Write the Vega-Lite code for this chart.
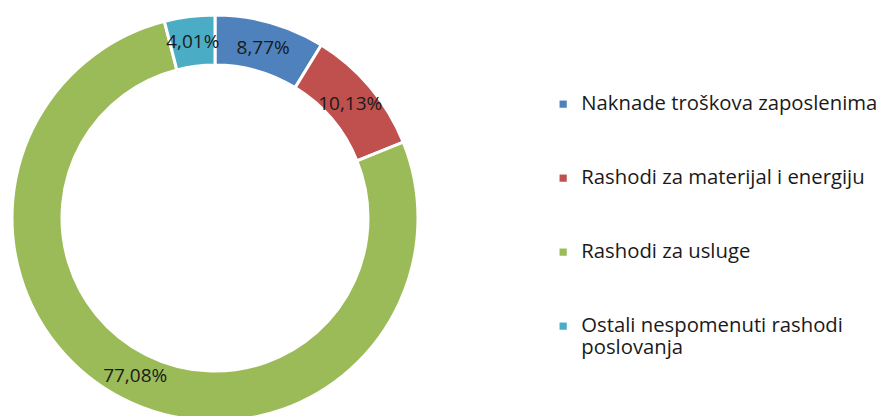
{
  "$schema": "https://vega.github.io/schema/vega-lite/v6.json",
  "width": 430,
  "height": 436,
  "padding": 0,
  "background": "white",
  "config": {"view": {"stroke": null}, "font": "Open Sans"},
  "data": {"values": [
    {"kategorija": "Naknade troškova zaposlenima", "udio": 8.77, "oznaka": "8,77%", "red": 1},
    {"kategorija": "Rashodi za materijal i energiju", "udio": 10.13, "oznaka": "10,13%", "red": 2},
    {"kategorija": "Rashodi za usluge", "udio": 77.08, "oznaka": "77,08%", "red": 3},
    {"kategorija": "Ostali nespomenuti rashodi poslovanja", "udio": 4.01, "oznaka": "4,01%", "red": 4}
  ]},
  "encoding": {
    "theta": {"field": "udio", "type": "quantitative", "stack": true},
    "order": {"field": "red", "type": "quantitative"}
  },
  "layer": [
    {
      "mark": {"type": "arc", "outerRadius": 203, "innerRadius": 153, "stroke": "white", "strokeWidth": 3},
      "encoding": {
        "color": {
          "field": "kategorija", "type": "nominal",
          "scale": {
            "domain": ["Naknade troškova zaposlenima", "Rashodi za materijal i energiju", "Rashodi za usluge", "Ostali nespomenuti rashodi poslovanja"],
            "range": ["#4F81BD", "#C0504D", "#9BBB59", "#4BACC6"]
          },
          "legend": {
            "title": null,
            "orient": "none",
            "legendX": 553,
            "legendY": 94,
            "symbolType": "square",
            "symbolSize": 52,
            "symbolStrokeWidth": 0,
            "labelFontSize": 20.3,
            "labelColor": "#1a1a1a",
            "labelFont": "Open Sans",
            "labelLimit": 400,
            "labelOffset": 8,
            "rowPadding": 53,
            "labelExpr": "datum.label == 'Ostali nespomenuti rashodi poslovanja' ? ['Ostali nespomenuti rashodi', 'poslovanja'] : datum.label",
            "encode": {"labels": {"update": {"lineHeight": {"value": 27}}}}
          }
        }
      }
    },
    {
      "mark": {"type": "text", "radius": 177, "fontSize": 19, "color": "#1a1a1a", "font": "Open Sans"},
      "encoding": {"text": {"field": "oznaka", "type": "nominal"}}
    }
  ]
}
